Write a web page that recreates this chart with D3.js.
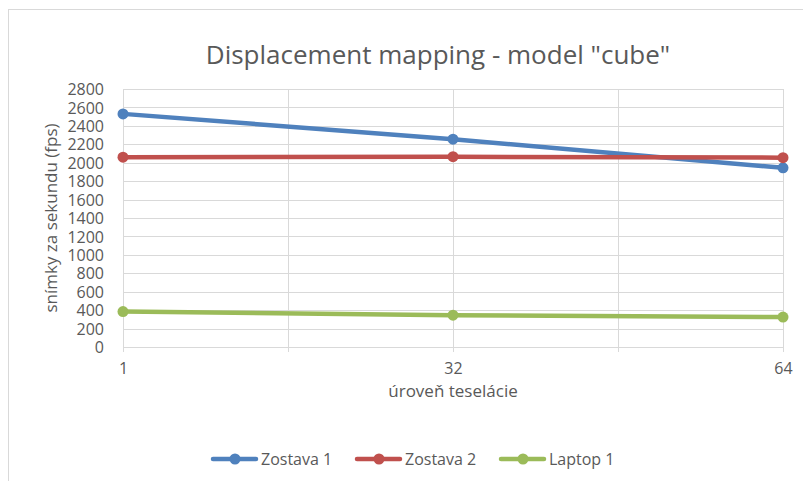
<!DOCTYPE html>
<html>
<head>
<meta charset="utf-8">
<script src="https://cdn.jsdelivr.net/npm/d3@7"></script>
<style>
  body { margin: 0; background: #fff; }
  text { font-family: "Open Sans", sans-serif; fill: #595959; }
</style>
</head>
<body>
<div id="chart"></div>
<script>
// category positions on the x axis (blank ones carry only a gridline)
var xTickLabels = ["1", "", "32", "", "64"];
var categories = ["1", "32", "64"];
var yTicks = [0, 200, 400, 600, 800, 1000, 1200, 1400, 1600, 1800, 2000, 2200, 2400, 2600, 2800];

var zostava1 = [2530, 2255, 1945];
var zostava2 = [2060, 2065, 2055];
var laptop1 = [385, 345, 325];

var seriesNames = ["Zostava 1", "Zostava 2", "Laptop 1"];
var seriesColors = ["#4f81bd", "#c0504d", "#9bbb59"];

var W = 803, H = 481;
var margin = { top: 89, right: 20, bottom: 134, left: 123 };
var width = 783 - margin.left;
var height = 347 - margin.top;

var svg = d3.select("#chart").append("svg")
    .attr("width", W)
    .attr("height", H);

// chart border
svg.append("rect")
    .attr("x", 8.5).attr("y", 9.5)
    .attr("width", W).attr("height", H)
    .attr("fill", "none")
    .attr("stroke", "#d9d9d9");

svg.append("text")
    .attr("x", 438).attr("y", 64)
    .attr("text-anchor", "middle")
    .style("font-size", "26px")
    .text('Displacement mapping - model "cube"');

var g = svg.append("g")
    .attr("transform", "translate(" + margin.left + "," + margin.top + ")");

var x = d3.scaleLinear()
    .domain([0, xTickLabels.length - 1])
    .range([0, width]);

var y = d3.scaleLinear()
    .domain([0, 2800])
    .range([height, 0]);

// horizontal gridlines
g.selectAll(".hgrid")
    .data(yTicks)
    .enter().append("line")
    .attr("class", "hgrid")
    .attr("x1", 0).attr("x2", width)
    .attr("y1", function(d) { return Math.round(y(d)) + 0.5; })
    .attr("y2", function(d) { return Math.round(y(d)) + 0.5; })
    .attr("stroke", "#d9d9d9");

// vertical gridlines
g.selectAll(".vgrid")
    .data(d3.range(xTickLabels.length))
    .enter().append("line")
    .attr("class", "vgrid")
    .attr("x1", function(d) { return Math.round(x(d)) + 0.5; })
    .attr("x2", function(d) { return Math.round(x(d)) + 0.5; })
    .attr("y1", 0).attr("y2", height + 5)
    .attr("stroke", "#d9d9d9");

var yAxis = d3.axisLeft(y)
    .tickValues(yTicks)
    .tickFormat(d3.format("d"))
    .tickSize(0)
    .tickPadding(19);

g.append("g")
    .attr("class", "y-axis")
    .call(yAxis)
    .call(function(a) { a.select(".domain").remove(); })
    .selectAll("text")
    .style("font-size", "16px")
    .attr("dy", "0.35em");

var xAxis = d3.axisBottom(x)
    .tickValues(d3.range(xTickLabels.length))
    .tickFormat(function(d) { return xTickLabels[d]; })
    .tickSize(0)
    .tickPadding(16);

g.append("g")
    .attr("class", "x-axis")
    .attr("transform", "translate(0," + height + ")")
    .call(xAxis)
    .call(function(a) { a.select(".domain").remove(); })
    .selectAll("text")
    .style("font-size", "16px");

svg.append("text")
    .attr("x", 453).attr("y", 397)
    .attr("text-anchor", "middle")
    .style("font-size", "17px")
    .text("úroveň teselácie");

svg.append("text")
    .attr("transform", "translate(57,218) rotate(-90)")
    .attr("text-anchor", "middle")
    .style("font-size", "17px")
    .text("snímky za sekundu (fps)");

var allSeries = [zostava1, zostava2, laptop1];

var xPos = function(i) { return x(xTickLabels.indexOf(categories[i])); };

var line = d3.line()
    .x(function(d, i) { return xPos(i); })
    .y(function(d) { return y(d); });

allSeries.forEach(function(vals, s) {
    g.append("path")
        .datum(vals)
        .attr("d", line)
        .attr("fill", "none")
        .attr("stroke", seriesColors[s])
        .attr("stroke-width", 4.5)
        .attr("stroke-linecap", "round");

    g.selectAll(".pt" + s)
        .data(vals)
        .enter().append("circle")
        .attr("class", "pt" + s)
        .attr("cx", function(d, i) { return xPos(i); })
        .attr("cy", function(d) { return y(d); })
        .attr("r", 5.5)
        .attr("fill", seriesColors[s]);
});

// legend
var legendX = [213, 357, 501];
var legend = svg.selectAll(".legend")
    .data(seriesNames)
    .enter().append("g")
    .attr("class", "legend")
    .attr("transform", function(d, i) { return "translate(" + legendX[i] + ",459)"; });

legend.append("line")
    .attr("x1", 0).attr("x2", 43)
    .attr("stroke", function(d, i) { return seriesColors[i]; })
    .attr("stroke-width", 4.5)
    .attr("stroke-linecap", "round");

legend.append("circle")
    .attr("cx", 22).attr("r", 5.5)
    .attr("fill", function(d, i) { return seriesColors[i]; });

legend.append("text")
    .attr("x", 48).attr("dy", "0.35em")
    .style("font-size", "16px")
    .text(function(d) { return d; });
</script>
</body>
</html>
